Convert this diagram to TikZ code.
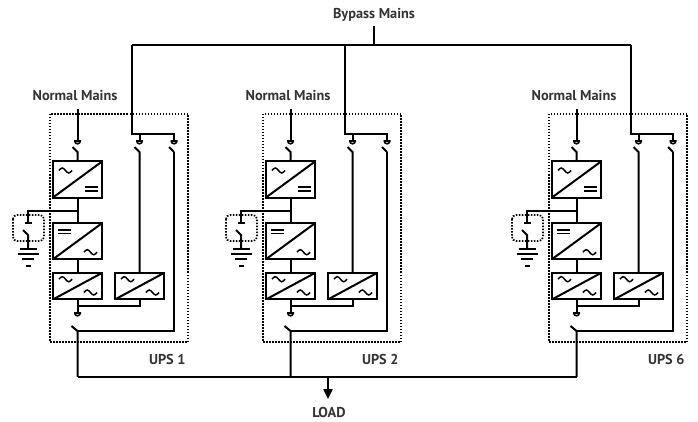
\documentclass[tikz,border=0pt]{standalone}
\usepackage{fontspec}
\setmainfont{PT Sans}
\usetikzlibrary{arrows.meta,positioning}

\tikzset{
  wire/.style={line width=2pt},
  conv/.style={draw, line width=2pt, inner sep=0pt, minimum width=49pt,
    path picture={\draw[line width=2pt] (path picture bounding box.south west)
      -- (path picture bounding box.north east);}},
  tallbox/.style={conv, minimum height=36pt},
  flatbox/.style={conv, minimum height=26.5pt},
  frame/.style={line width=1.7pt, dash pattern=on 1.5pt off 1.5pt},
  lbl/.style={font=\bfseries\fontsize{14.3}{16}\selectfont, text=black!80,
    inner xsep=0pt, inner ysep=7pt, text depth=0pt, anchor=base},
  ac/.pic={\draw[line width=1.5pt] (-6.5,0) sin (-3.25,-2.5) cos (0,0)
    sin (3.25,2.5) cos (6.5,0);},
  dc/.pic={\draw[line width=1.5pt] (-6.5,-1.9) -- (6.5,-1.9) (-6.5,1.9) -- (6.5,1.9);},
  plug/.pic={\draw[line width=1.6pt] (-3.5,0) -- (3.5,0) (-2.8,0) arc (180:0:2.8);}
}

\begin{document}
\begin{tikzpicture}[x=1pt, y=-1pt, wire]
  \useasboundingbox (0,0) rectangle (698,422);

  % bypass supply
  \node[lbl] (bm) at (374,18.3) {Bypass Mains};
  \coordinate (bt) at (374,45);
  \draw (bm.south) -- (bt);

  \foreach \u/\dx in {1/0, 2/213, 6/499} {
    \begin{scope}[shift={(\dx,0)}]
      % normal mains input and breaker
      \node[lbl] (nm\u) at (75,101) {Normal Mains};
      \coordinate (swi\u)  at (77.5,141);
      \coordinate (swib\u) at (77.5,152);
      \node[tallbox] (rec\u) at (77.5,179.5) {};
      \node[tallbox] (inv\u) at (77.5,241.2) {};
      \node[flatbox] (out\u) at (77.5,286.2) {};
      \node[flatbox] (byp\u) at (139.5,286.2) {};
      \pic at ([shift={(-12,-9)}]rec\u.center) {ac};
      \pic at ([shift={(14,9.5)}]rec\u.center) {dc};
      \pic at ([shift={(-12.7,-9.5)}]inv\u.center) {dc};
      \pic at ([shift={(13,11)}]inv\u.center) {ac};
      \foreach \b in {out,byp} {
        \pic at ([shift={(-12,-7)}]\b\u.center) {ac};
        \pic at ([shift={(13,6.3)}]\b\u.center) {ac};
      }
      \draw (nm\u.south -| swi\u) -- (swi\u);
      \pic at (swi\u) {plug};
      \draw ([shift={(-5,6)}]swi\u) -- (swib\u) -- (rec\u);
      \draw (rec\u) -- (inv\u) -- (out\u);

      % battery branch
      \coordinate (bj\u)  at (77.5,211);
      \coordinate (bs\u)  at (28,223);
      \coordinate (bsb\u) at (28,235);
      \coordinate (gnd\u) at (28,249);
      \draw (bj\u) -| (bs\u);
      \draw ([xshift=-3.5pt]bs\u) -- ([xshift=3.5pt]bs\u);
      \draw ([shift={(-5,-5)}]bsb\u) -- (bsb\u) -- (gnd\u);
      \draw (gnd\u) ++(-8.5,0) -- ++(17,0)
            (gnd\u) ++(-10.5,5) -- ++(21,0)
            (gnd\u) ++(-6,10) -- ++(12,0)
            (gnd\u) ++(-2.5,17) -- ++(5,0);
      \draw[frame, rounded corners=4pt] (13,215) rectangle (44,241);

      % bypass branches
      \coordinate (bd\u)   at (132,45);
      \coordinate (bh\u)   at (132,134);
      \coordinate (bhr\u)  at (174,134);
      \coordinate (swa\u)  at (139.5,141);
      \coordinate (swab\u) at (139.5,152);
      \coordinate (swb\u)  at (174,141);
      \coordinate (swbb\u) at (174,152);
      \coordinate (bo\u)   at (174,331);
      \draw (bd\u) -- (bh\u) -- (bhr\u) -- (swb\u);
      \draw (swa\u |- bh\u) -- (swa\u);
      \pic at (swa\u) {plug};
      \pic at (swb\u) {plug};
      \draw ([shift={(-5,6)}]swa\u) -- (swab\u) -- (byp\u);
      \draw ([shift={(-5,6)}]swb\u) -- (swbb\u);

      % output breaker
      \coordinate (oj\u)   at (77.5,306);
      \coordinate (swo\u)  at (77.5,313);
      \coordinate (swob\u) at (77.5,331);
      \coordinate (bus\u)  at (77.5,377);
      \draw (out\u) -- (swo\u);
      \draw (byp\u.south) |- (oj\u);
      \pic at (swo\u) {plug};
      \draw ([shift={(-6,-5)}]swob\u) -- (swob\u) -- (bus\u);
      \draw (swbb\u) -- (bo\u) -- (swob\u);

      \draw[frame] (50,114) rectangle (188,342);
      \node[lbl, anchor=base east] (ups\u) at (186.5,364) {UPS \u};
    \end{scope}
  }

  \draw (bd1) -- (bd6);
  \draw (bus1) -- (bus6);

  % load
  \coordinate (ld) at (328,377);
  \node[lbl] (load) at (329,417.3) {LOAD};
  \draw[-{Triangle[width=9pt,length=10pt]}] (ld) -- (ld |- load.north);
\end{tikzpicture}
\end{document}
